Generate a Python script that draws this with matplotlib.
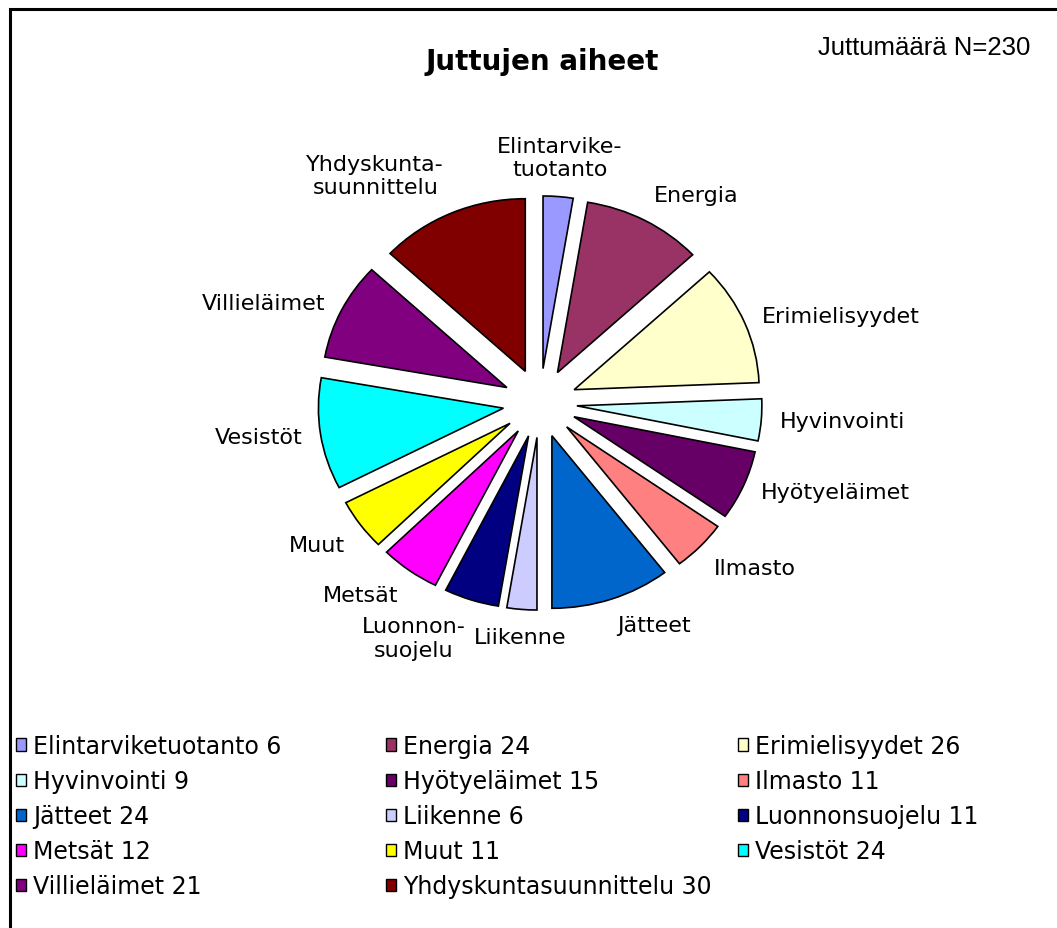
import matplotlib
matplotlib.use("Agg")
import matplotlib.pyplot as plt
import matplotlib.patches as mpatches
import numpy as np

# data
topics = ["Elintarviketuotanto", "Energia", "Erimielisyydet", "Hyvinvointi",
          "Hyötyeläimet", "Ilmasto", "Jätteet", "Liikenne", "Luonnonsuojelu",
          "Metsät", "Muut", "Vesistöt", "Villieläimet", "Yhdyskuntasuunnittelu"]
pie_labels = ["Elintarvike-\ntuotanto", "Energia", "Erimielisyydet", "Hyvinvointi",
              "Hyötyeläimet", "Ilmasto", "Jätteet", "Liikenne", "Luonnon-\nsuojelu",
              "Metsät", "Muut", "Vesistöt", "Villieläimet", "Yhdyskunta-\nsuunnittelu"]
counts = [6, 24, 26, 9, 15, 11, 24, 6, 11, 12, 11, 24, 21, 30]
colors = ["#9999FF", "#993366", "#FFFFCC", "#CCFFFF", "#660066", "#FF8080",
          "#0066CC", "#CCCCFF", "#000080", "#FF00FF", "#FFFF00", "#00FFFF",
          "#800080", "#800000"]
title = "Juttujen aiheet"
note = "Juttumäärä N=230"

W, H = 1057, 929
fig = plt.figure(figsize=(W / 100, H / 100), dpi=100)
fig.patch.set_facecolor("white")

# pie axes, slightly wider than tall like the original
cx, cy = 540, 404
sx, sy = 185.0, 172.6  # pixels per data unit
box = 300
ax = fig.add_axes([(cx - box) / W, (H - cy - box) / H, 2 * box / W, 2 * box / H])
wedges, texts = ax.pie(counts, labels=pie_labels, colors=colors,
                       explode=[0.2] * len(counts), startangle=90, counterclock=False,
                       labeldistance=1.1,
                       wedgeprops=dict(edgecolor="black", linewidth=1.2),
                       textprops=dict(fontsize=16, family="DejaVu Sans",
                                      multialignment="center"))
ax.set_aspect("auto")
ax.set_xlim(-box / sx, box / sx)
ax.set_ylim(-box / sy, box / sy)
ax.axis("off")

# keep labels clear of the slices
for w, t in zip(wedges, texts):
    ang = np.deg2rad((w.theta1 + w.theta2) / 2)
    if abs(np.cos(ang)) < 0.15:
        t.set_ha("center")
    if np.sin(ang) > 0.5:
        t.set_va("bottom")
    elif np.sin(ang) < -0.5:
        t.set_va("top")

fig.text(542 / W, 1 - 62 / H, title, ha="center", va="center",
         fontsize=20, fontweight="bold", family="DejaVu Sans")
fig.text(1030 / W, 1 - 48 / H, note, ha="right", va="center",
         fontsize=18.5, family="Liberation Sans")

# legend in three columns like the original
handles = [mpatches.Patch(facecolor=c, edgecolor="black", linewidth=1.0) for c in colors]
names = [f"{n} {v}" for n, v in zip(topics, counts)]
col_x = [16, 386, 738]
for c in range(3):
    fig.legend(handles[c::3], names[c::3], loc="upper left",
               bbox_to_anchor=(col_x[c] / W, 1 - 735 / H),
               frameon=False, borderpad=0, borderaxespad=0,
               handlelength=0.42, handleheight=0.42, handletextpad=0.3,
               labelspacing=0.47, prop=dict(family="DejaVu Sans", size=17))

# outer frame (cut off at right and bottom)
fig.patches.append(mpatches.Rectangle((10 / W, -0.1), 1.2, (H - 10) / H + 0.1,
                                      transform=fig.transFigure, fill=False,
                                      edgecolor="black", linewidth=2.2))

fig.savefig("out.png", dpi=100)
